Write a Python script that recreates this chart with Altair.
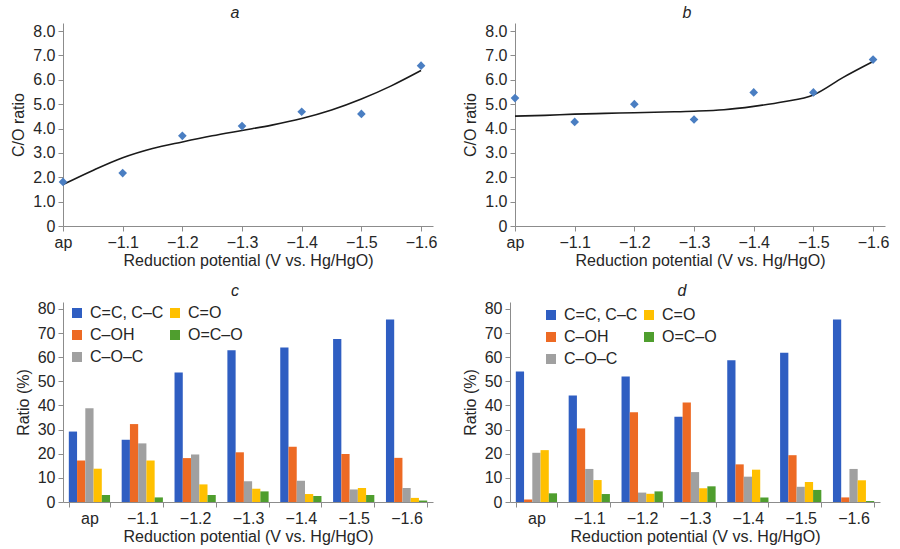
import altair as alt
import pandas as pd

# ---------------- data ----------------
potentials = ["ap", "−1.1", "−1.2", "−1.3", "−1.4", "−1.5", "−1.6"]
positions = [0, 1, 2, 3, 4, 5, 6]

co_ratio_a = [1.81, 2.17, 3.70, 4.10, 4.69, 4.60, 6.58]
co_ratio_b = [5.25, 4.27, 5.00, 4.37, 5.48, 5.48, 6.83]

trend_pos = [0, 0.5, 1, 1.5, 2, 2.5, 3, 3.5, 4, 4.5, 5, 5.5, 6]
trend_a = [1.70, 2.28, 2.80, 3.18, 3.45, 3.70, 3.92, 4.14, 4.41, 4.76, 5.21, 5.75, 6.38]
trend_b = [4.51, 4.54, 4.59, 4.62, 4.65, 4.68, 4.71, 4.77, 4.91, 5.10, 5.38, 6.10, 6.75]

bond_types = ["C=C, C–C", "C–OH", "C–O–C", "C=O", "O=C–O"]        # bar and legend order
bond_colors = ["#2F5EC2", "#ED6A24", "#A0A0A0", "#FFC000", "#4F9E2E"]

c_cc = [29.2, 25.8, 53.7, 62.9, 64.0, 67.6, 75.6]
c_coh = [17.2, 32.3, 18.2, 20.6, 22.9, 19.9, 18.3]
c_coc = [38.9, 24.3, 19.7, 8.6, 8.8, 5.2, 5.8]
c_co = [13.8, 17.2, 7.3, 5.5, 3.3, 5.8, 1.7]
c_oco = [2.9, 1.9, 2.9, 4.4, 2.5, 2.9, 0.6]

d_cc = [54.1, 44.1, 52.0, 35.3, 58.8, 61.9, 75.6]
d_coh = [1.0, 30.5, 37.2, 41.2, 15.6, 19.4, 1.9]
d_coc = [20.4, 13.7, 3.9, 12.4, 10.5, 6.3, 13.7]
d_co = [21.5, 9.1, 3.4, 5.7, 13.4, 8.3, 9.0]
d_oco = [3.6, 3.3, 4.4, 6.5, 1.9, 5.0, 0.4]

x_title = "Reduction potential (V vs. Hg/HgO)"
FONT = "Liberation Sans"
TXT = "#262626"
AX = "#8C8C8C"

label_expr = "[" + ",".join("'" + p + "'" for p in potentials) + "][datum.value]"


def panel_title(t):
    return alt.Title(t, fontStyle="italic", fontWeight="normal", fontSize=16,
                     font=FONT, color=TXT, offset=2, dx=-13)


def co_panel(letter, pts, trend):
    df_pts = pd.DataFrame({"pos": positions, "val": pts})
    df_tr = pd.DataFrame({"pos": trend_pos, "val": trend})
    xenc = alt.X("pos:Q", scale=alt.Scale(domain=[0, 6.2], nice=False, zero=False),
                 axis=alt.Axis(values=positions, labelExpr=label_expr, title=x_title,
                               grid=False, tickSize=5, labelPadding=3, titlePadding=2,
                               labelFlush=False, labelOverlap=False))
    yenc = alt.Y("val:Q", scale=alt.Scale(domain=[0, 8.33], nice=False),
                 axis=alt.Axis(values=[0, 1, 2, 3, 4, 5, 6, 7, 8],
                               labelExpr="datum.value == 0 ? '0' : format(datum.value, '.1f')",
                               title="C/O ratio", grid=False, tickSize=5, labelPadding=3,
                               titlePadding=6, labelFlush=False, labelOverlap=False))
    line = alt.Chart(df_tr).mark_line(color="#1A1A1A", strokeWidth=1.6,
                                      interpolate="monotone").encode(x=xenc, y=yenc)
    dots = alt.Chart(df_pts).mark_point(shape="diamond", filled=True, size=75,
                                        color="#4A7EC2", opacity=1).encode(x=xenc, y=yenc)
    return alt.layer(line, dots).properties(width=370, height=203, title=panel_title(letter))


def bar_panel(letter, series, lx, ly):
    rows = []
    for bond, vals in zip(bond_types, series):
        for p, v in zip(potentials, vals):
            rows.append({"pot": p, "bond": bond, "val": v})
    df = pd.DataFrame(rows)
    return alt.Chart(df).mark_bar().encode(
        x=alt.X("pot:N", sort=potentials,
                scale=alt.Scale(domain=potentials, paddingInner=0.22, paddingOuter=0.11),
                axis=alt.Axis(title=x_title, labelAngle=0, tickBand="extent", tickSize=5,
                              labelPadding=3, titlePadding=2, grid=False)),
        xOffset=alt.XOffset("bond:N", sort=bond_types,
                            scale=alt.Scale(domain=bond_types, paddingInner=0, paddingOuter=0)),
        y=alt.Y("val:Q", scale=alt.Scale(domain=[0, 82.9], nice=False),
                axis=alt.Axis(values=[0, 10, 20, 30, 40, 50, 60, 70, 80], title="Ratio (%)",
                              grid=False, tickSize=5, labelPadding=3, titlePadding=6,
                              labelFlush=False, labelOverlap=False)),
        color=alt.Color("bond:N",
                        scale=alt.Scale(domain=bond_types, range=bond_colors),
                        legend=alt.Legend(title=None, orient="none", legendX=lx, legendY=ly,
                                          columns=2, symbolType="square", symbolSize=100,
                                          symbolStrokeWidth=0, labelFontSize=16, labelFont=FONT,
                                          labelColor=TXT, rowPadding=6, columnPadding=3,
                                          padding=0, labelOffset=5)),
    ).properties(width=370, height=200, title=panel_title(letter))


pa = co_panel("a", co_ratio_a, trend_a)
pb = co_panel("b", co_ratio_b, trend_b)
pc = bar_panel("c", [c_cc, c_coh, c_coc, c_co, c_oco], 6, 3)
pd_ = bar_panel("d", [d_cc, d_coh, d_coc, d_co, d_oco], 33, 5)

top = alt.hconcat(pa, pb, spacing=25)
bottom = alt.hconcat(pc, pd_, spacing=29).resolve_scale(color="independent")

chart = alt.vconcat(top, bottom, spacing=14).resolve_scale(color="independent").properties(
    padding={"left": 10, "top": 5, "right": 5, "bottom": 5}
).configure_axis(
    labelFont=FONT, titleFont=FONT, labelFontSize=16, titleFontSize=16,
    titleFontWeight="normal", labelColor=TXT, titleColor=TXT,
    domainColor=AX, tickColor=AX, domainWidth=1, tickWidth=1
).configure_view(stroke=None)

chart.save("out.html", embed_options={"renderer": "svg", "actions": False})
